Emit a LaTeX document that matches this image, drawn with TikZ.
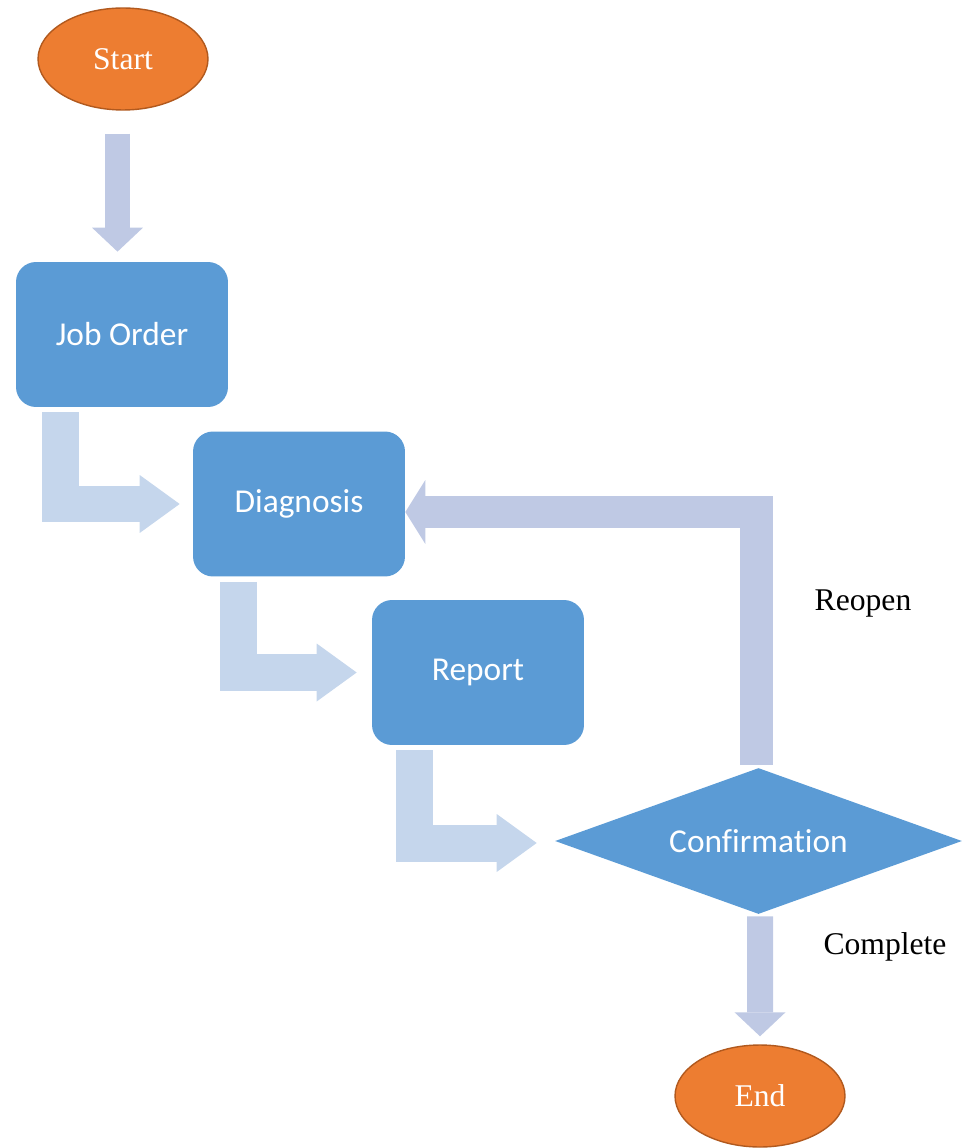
\documentclass[tikz,border=0pt]{standalone}
\usepackage{fontspec}
\setmainfont{Liberation Serif}
\newfontfamily\boxfont[Ligatures={NoCommon,NoContextual},Contextuals=NoAlternate]{Carlito}
\usetikzlibrary{shapes.geometric}
\usetikzlibrary{arrows.meta}
\usetikzlibrary{calc}
\definecolor{boxblue}{HTML}{5B9BD5}
\definecolor{endorange}{HTML}{ED7D31}
\definecolor{endline}{HTML}{B1591E}
\definecolor{flowlav}{HTML}{BFC9E4}
\definecolor{steplav}{HTML}{C5D6EC}
\tikzset{
	terminal/.style={ellipse,fill=endorange,draw=endline,line width=0.8pt,minimum width=3.4cm,minimum height=2.04cm,inner sep=0pt,text=white,font=\fontsize{18}{22}\selectfont},
	stepbox/.style={rectangle,rounded corners=0.4cm,fill=boxblue,minimum width=4.24cm,minimum height=2.9cm,text=white,font=\boxfont\fontsize{19}{23}\selectfont},
	checkbox/.style={diamond,shape aspect=2.8,fill=boxblue,minimum width=8.14cm,minimum height=2.92cm,inner sep=0pt,text=white,font=\boxfont\fontsize{19}{23}\selectfont},
	downflow/.style={draw=flowlav,line width=0.52cm,-{Triangle[length=0.48cm,width=1.02cm,line width=0pt]}},
	bendflow/.style={draw=steplav,line width=0.74cm,-{Triangle[length=0.8cm,width=1.16cm,line width=0pt]}},
	backflow/.style={draw=flowlav,line width=0.66cm,-{Triangle[length=0.4cm,width=1.28cm,line width=0pt]}},
	branch/.style={font=\fontsize{18}{22}\selectfont}
}

\begin{document}
\begin{tikzpicture}[x=0.02cm,y=-0.02cm]
	\useasboundingbox (0,0) rectangle (965,1148);
	% steps
	\node[terminal] (start) at (123,59) {Start};
	\node[stepbox] (job) at (122,334.5) {Job Order};
	\node[stepbox] (diag) at (299,504) {Diagnosis};
	\node[stepbox] (rep) at (478,672.5) {Report};
	\node[checkbox] (conf) at (758.5,841) {Confirmation};
	\node[terminal] (end) at (760,1096) {End};
	% flow
	\draw[downflow,shorten <=0.46cm,shorten >=0.2cm] ($(start.south)+(-5.5,0)$) -- ($(job.north)+(-4.5,0)$);
	\draw[bendflow,shorten >=0.26cm] ($(job.south west)+(45,5)$) |- (diag.west);
	\draw[bendflow,shorten >=0.3cm] ($(diag.south west)+(46,5)$) |- (rep.west);
	\draw[bendflow,shorten >=0.36cm] ($(rep.south west)+(43,5)$) |- ($(conf.west)+(0,2)$);
	\draw[backflow] ($(conf.north)+(-2.5,-3)$) |- ($(diag.east)+(0,8)$);
	\draw[downflow,shorten <=0.04cm,shorten >=0.16cm] ($(conf.south)+(1.5,0)$) -- (end.north);
	% answers
	\node[branch] (reopen) at (863,604) {Reopen};
	\node[branch] (complete) at (885,947) {Complete};
\end{tikzpicture}
\end{document}
